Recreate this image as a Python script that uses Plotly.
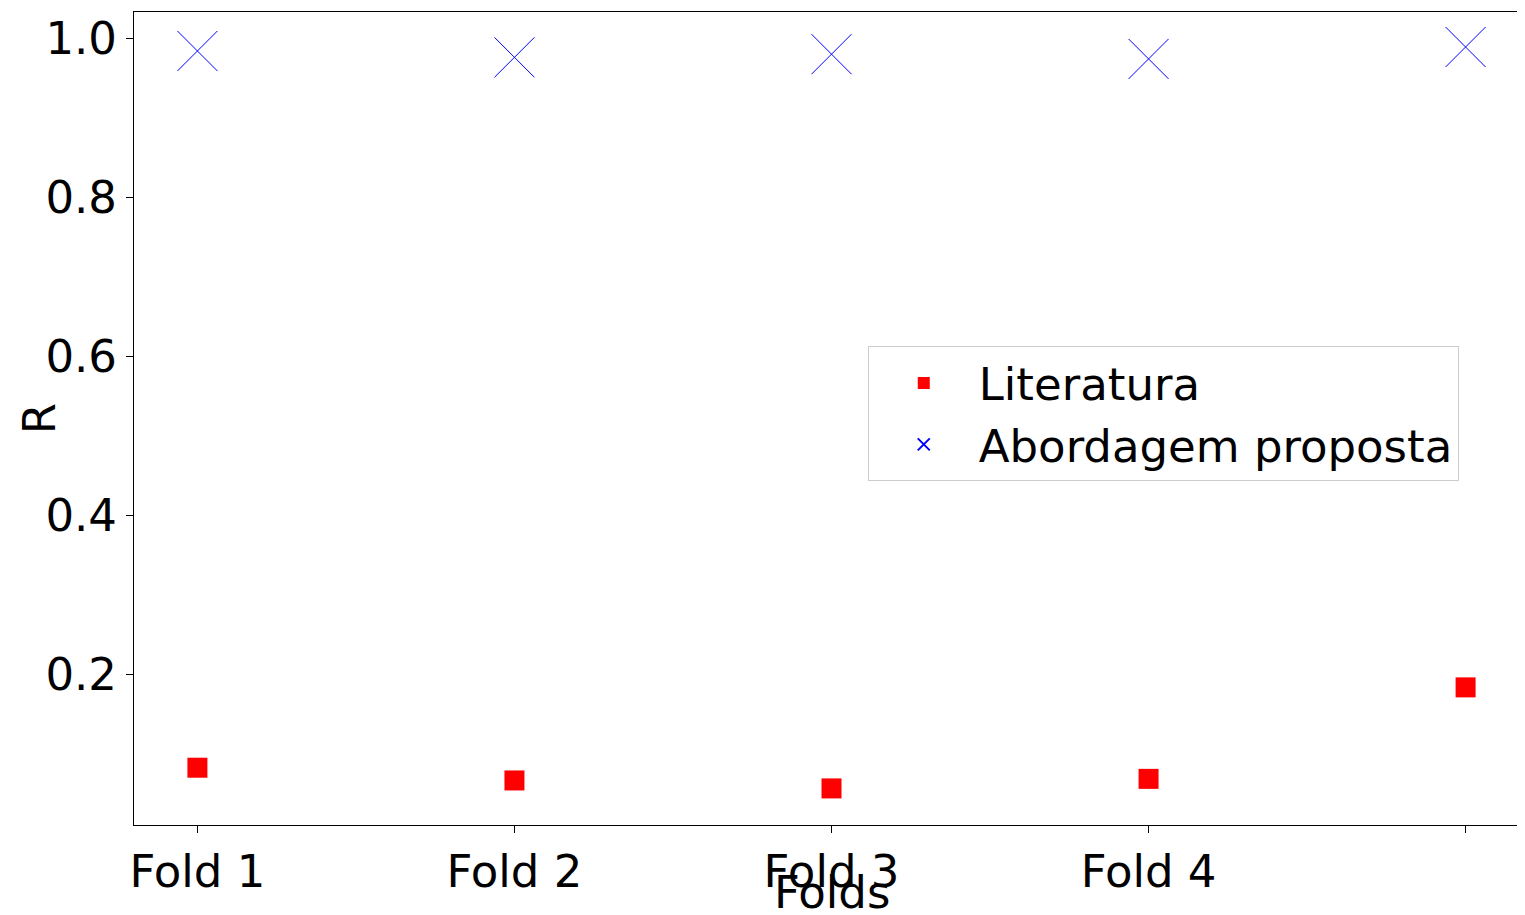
import plotly.graph_objects as go

folds = ["Fold 1", "Fold 2", "Fold 3", "Fold 4", "Fold 5"]
literatura = [0.083, 0.067, 0.057, 0.069, 0.184]
proposta = [0.984, 0.976, 0.980, 0.974, 0.989]

fig = go.Figure()
fig.add_trace(go.Scatter(x=list(range(5)), y=literatura, mode="markers", name="Literatura",
                         marker=dict(symbol="square", size=20, color="red")))
fig.add_trace(go.Scatter(x=list(range(5)), y=proposta, mode="markers", name="Abordagem proposta",
                         marker=dict(symbol="x-thin", size=40, line=dict(color="blue", width=1), color="blue")))

axis = dict(showline=True, linecolor="black", linewidth=1, mirror=True, showgrid=False,
            zeroline=False, ticks="outside", tickcolor="black", ticklen=7, automargin=False,
            tickfont=dict(size=45, color="black"))
fig.update_xaxes(**axis, range=[-0.2, 4.2], tickvals=list(range(5)), ticktext=folds)
fig.update_yaxes(**axis, range=[0.011, 1.033], tickvals=[0.2, 0.4, 0.6, 0.8, 1.0], tickformat=".1f")
fig.add_annotation(text="Folds", x=0.5, y=-0.083, xref="paper", yref="paper",
                   yanchor="middle", showarrow=False, font=dict(size=45, color="black"))
fig.add_annotation(text="R", x=-0.088, y=0.5, xref="paper", yref="paper", textangle=-90,
                   showarrow=False, font=dict(size=45, color="black"))
fig.update_layout(
    width=1525, height=915, plot_bgcolor="white", paper_bgcolor="white",
    font=dict(family="DejaVu Sans", size=45, color="black"),
    margin=dict(l=126, r=4, t=4, b=98),
    legend=dict(x=0.526, y=0.589, xanchor="left", yanchor="top", bgcolor="white",
                bordercolor="#cccccc", borderwidth=1, font=dict(size=45),
                itemwidth=100, itemsizing="constant"),
)
fig.write_html("out.html")
